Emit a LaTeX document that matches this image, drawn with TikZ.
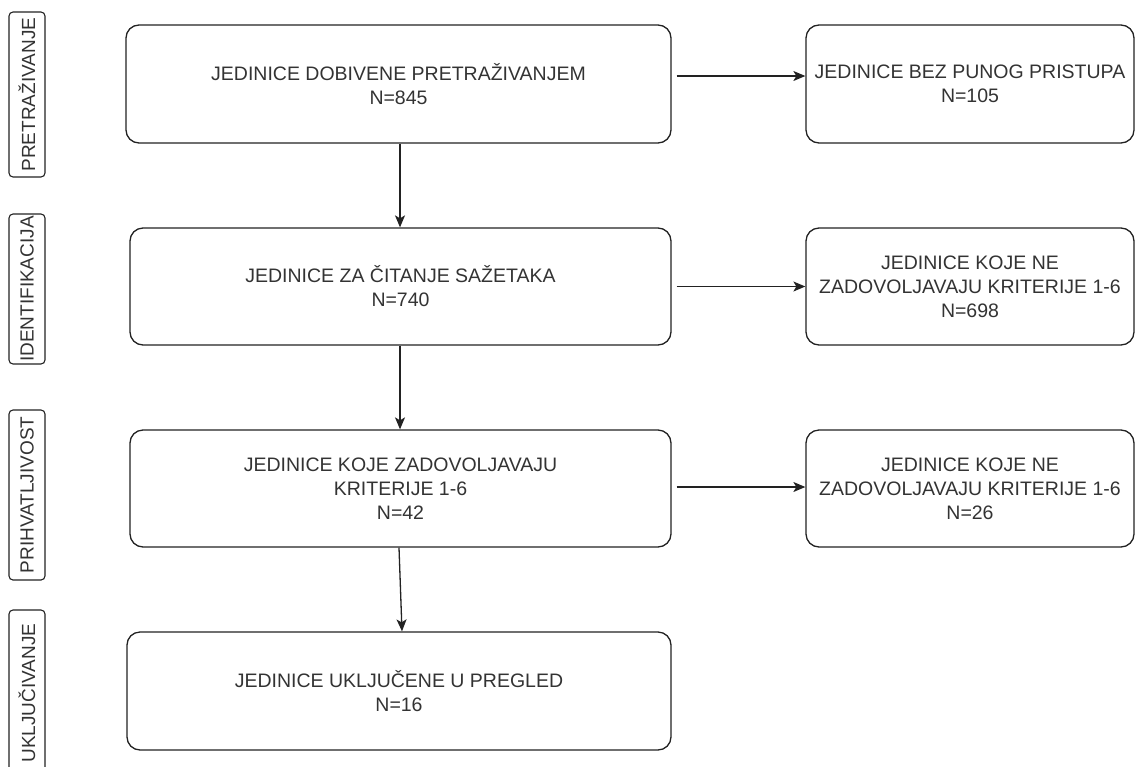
\documentclass[tikz,border=0pt]{standalone}
\usepackage{fontspec}
\setmainfont{Liberation Sans}
\usetikzlibrary{arrows.meta}
\definecolor{ln}{HTML}{222222}
\definecolor{tx}{HTML}{333333}
\tikzset{
  box/.style={draw=ln, line width=1.3pt, rounded corners=13pt, fill=white,
    inner sep=0pt, align=center, text=tx,
    font=\fontsize{19.5}{24}\selectfont},
  sidelab/.style={draw=ln, line width=1.1pt, rounded corners=4pt, inner sep=0pt,
    text=tx, rotate=90, font=\fontsize{19}{22}\selectfont},
  arr/.style={draw=ln, line width=1.3pt, -{Stealth[length=12pt,width=10pt,inset=3pt]}}
}
\begin{document}
\begin{tikzpicture}[x=1pt,y=-1pt]
\useasboundingbox (0,0) rectangle (1135,766);
\clip (0,0) rectangle (1135,766);
% main boxes
\node[box, minimum width=545pt, minimum height=118pt] (b1) at (398.5,84) {JEDINICE DOBIVENE PRETRAŽIVANJEM\\N=845};
\node[box, minimum width=541pt, minimum height=117pt] (b2) at (400.5,286.5) {JEDINICE ZA ČITANJE SAŽETAKA\\N=740};
\node[box, minimum width=541pt, minimum height=117pt] (b3) at (400.5,488.5) {JEDINICE KOJE ZADOVOLJAVAJU\\KRITERIJE 1-6\\N=42};
\node[box, minimum width=544pt, minimum height=118pt] (b4) at (399,691) {JEDINICE UKLJUČENE U PREGLED\\N=16};
% right boxes
\node[box, minimum width=328pt, minimum height=118pt] (r1) at (970,84) {JEDINICE BEZ PUNOG PRISTUPA\\N=105};
\node[box, minimum width=328pt, minimum height=117pt] (r2) at (970,286.5) {JEDINICE KOJE NE\\ZADOVOLJAVAJU KRITERIJE 1-6\\N=698};
\node[box, minimum width=328pt, minimum height=117pt] (r3) at (970,488.5) {JEDINICE KOJE NE\\ZADOVOLJAVAJU KRITERIJE 1-6\\N=26};
% side labels
\node[sidelab, minimum width=165pt, minimum height=36pt] (s1) at (27,94.5) {PRETRAŽIVANJE};
\node[sidelab, minimum width=150pt, minimum height=36pt] (s2) at (27,289) {IDENTIFIKACIJA};
\node[sidelab, minimum width=170pt, minimum height=36pt] (s3) at (27,495) {PRIHVATLJIVOST};
\node[sidelab, minimum width=166pt, minimum height=36pt] (s4) at (27,693) {UKLJUČIVANJE};
% vertical arrows
\draw[arr] ([xshift=1.5pt]b1.south) -- ([xshift=-0.5pt]b2.north);
\draw[arr] ([xshift=-0.5pt]b2.south) -- ([xshift=-0.5pt]b3.north);
\draw[arr] ([xshift=-1.5pt]b3.south) -- ([xshift=3pt]b4.north);
% horizontal arrows
\draw[arr] ([xshift=5pt,yshift=8pt]b1.east) -- ([yshift=8pt]r1.west);
\draw[arr] ([xshift=5pt]b2.east) -- (r2.west);
\draw[arr] ([xshift=5pt,yshift=1.5pt]b3.east) -- ([yshift=1.5pt]r3.west);
\end{tikzpicture}
\end{document}
